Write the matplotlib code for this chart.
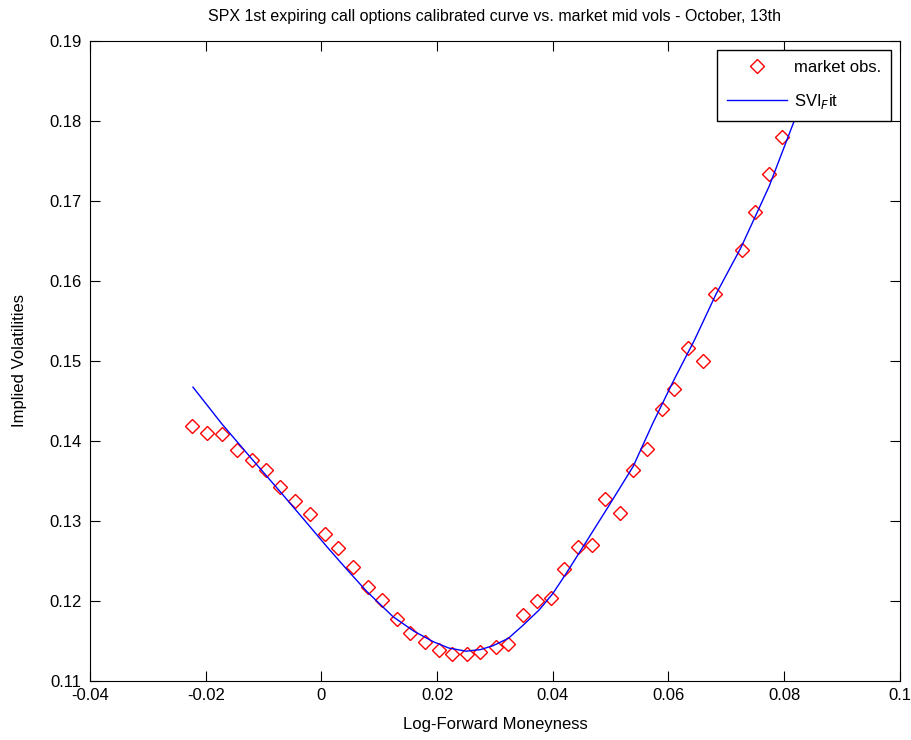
import numpy as np
import matplotlib
matplotlib.use("Agg")
import matplotlib.pyplot as plt

# market mid vols (log-forward moneyness, implied vol)
market_k = [-0.0223, -0.0197, -0.0172, -0.0146, -0.0120, -0.0096, -0.0072, -0.0046,
            -0.0019, 0.0006, 0.0029, 0.0055, 0.0081, 0.0104, 0.0130, 0.0154, 0.0179,
            0.0203, 0.0225, 0.0252, 0.0275, 0.0301, 0.0323, 0.0348, 0.0372, 0.0397,
            0.0419, 0.0444, 0.0468, 0.0491, 0.0517, 0.0539, 0.0562, 0.0588, 0.0610,
            0.0633, 0.0659, 0.0681, 0.0727, 0.0749, 0.0774, 0.0797]
market_vol = [0.1418, 0.1410, 0.1408, 0.1389, 0.1376, 0.1364, 0.1342, 0.1325,
              0.1308, 0.1284, 0.1266, 0.1242, 0.1217, 0.1201, 0.1177, 0.1160, 0.1149,
              0.1138, 0.1134, 0.1133, 0.1136, 0.1142, 0.1146, 0.1182, 0.1200, 0.1204,
              0.1240, 0.1267, 0.1270, 0.1327, 0.1310, 0.1363, 0.1390, 0.1440, 0.1465,
              0.1516, 0.1500, 0.1584, 0.1639, 0.1686, 0.1733, 0.1780]

# calibrated SVI curve
fit_k = [-0.0222, -0.0172, -0.0120, -0.0072, -0.0026, 0.0009, 0.0043, 0.0078,
         0.0124, 0.0160, 0.0193, 0.0220, 0.0250, 0.0275, 0.0297, 0.0323, 0.0348,
         0.0377, 0.0400, 0.0423, 0.0458, 0.0498, 0.0539, 0.0573, 0.0608, 0.0645,
         0.0682, 0.0725, 0.0774, 0.0818, 0.0840]
fit_vol = [0.1467, 0.1421, 0.1377, 0.1337, 0.1298, 0.1268, 0.1240, 0.1212,
           0.1180, 0.1162, 0.1149, 0.1141, 0.1137, 0.1139, 0.1144, 0.1153, 0.1169,
           0.1189, 0.1209, 0.1234, 0.1274, 0.1320, 0.1368, 0.1422, 0.1474, 0.1526,
           0.1583, 0.1641, 0.1718, 0.1801, 0.1840]

plt.rcParams['font.family'] = ['Liberation Sans', 'DejaVu Sans']

fig = plt.figure(figsize=(9.12, 7.4), dpi=100)
ax = fig.add_axes([0.0987, 0.0800, 0.888, 0.8650])

ax.plot(market_k, market_vol, linestyle='none', marker='D', markersize=7,
        markerfacecolor='none', markeredgecolor='red', markeredgewidth=1,
        label='market obs.')
ax.plot(fit_k, fit_vol, color='#0000ff', linewidth=1, label='SVI$_F$it')

ax.set_xlim(-0.04, 0.1)
ax.set_ylim(0.11, 0.19)
ax.set_xticks(np.arange(-0.04, 0.1001, 0.02))
ax.set_yticks(np.arange(0.11, 0.1901, 0.01))
ax.set_xticklabels(['-0.04', '-0.02', '0', '0.02', '0.04', '0.06', '0.08', '0.1'])
ax.set_yticklabels(['0.11', '0.12', '0.13', '0.14', '0.15', '0.16', '0.17', '0.18', '0.19'])
ax.tick_params(direction='in', top=True, right=True, labelsize=12, length=7)
ax.tick_params(axis='x', pad=5)
ax.tick_params(axis='y', pad=6)

ax.set_xlabel('Log-Forward Moneyness', fontsize=12, labelpad=10)
ax.set_ylabel('Implied Volatilities', fontsize=12, labelpad=16)
ax.set_title('SPX 1st expiring call options calibrated curve vs. market mid vols - October, 13th',
             fontsize=11.5, pad=14)

leg = ax.legend(loc='upper right', fancybox=False, framealpha=1, edgecolor='black',
                fontsize=12, borderaxespad=0.55, borderpad=0.6, labelspacing=1.0,
                handlelength=3.6, handletextpad=0.4)
leg.get_frame().set_linewidth(1)

fig.savefig('out.png', dpi=100)
